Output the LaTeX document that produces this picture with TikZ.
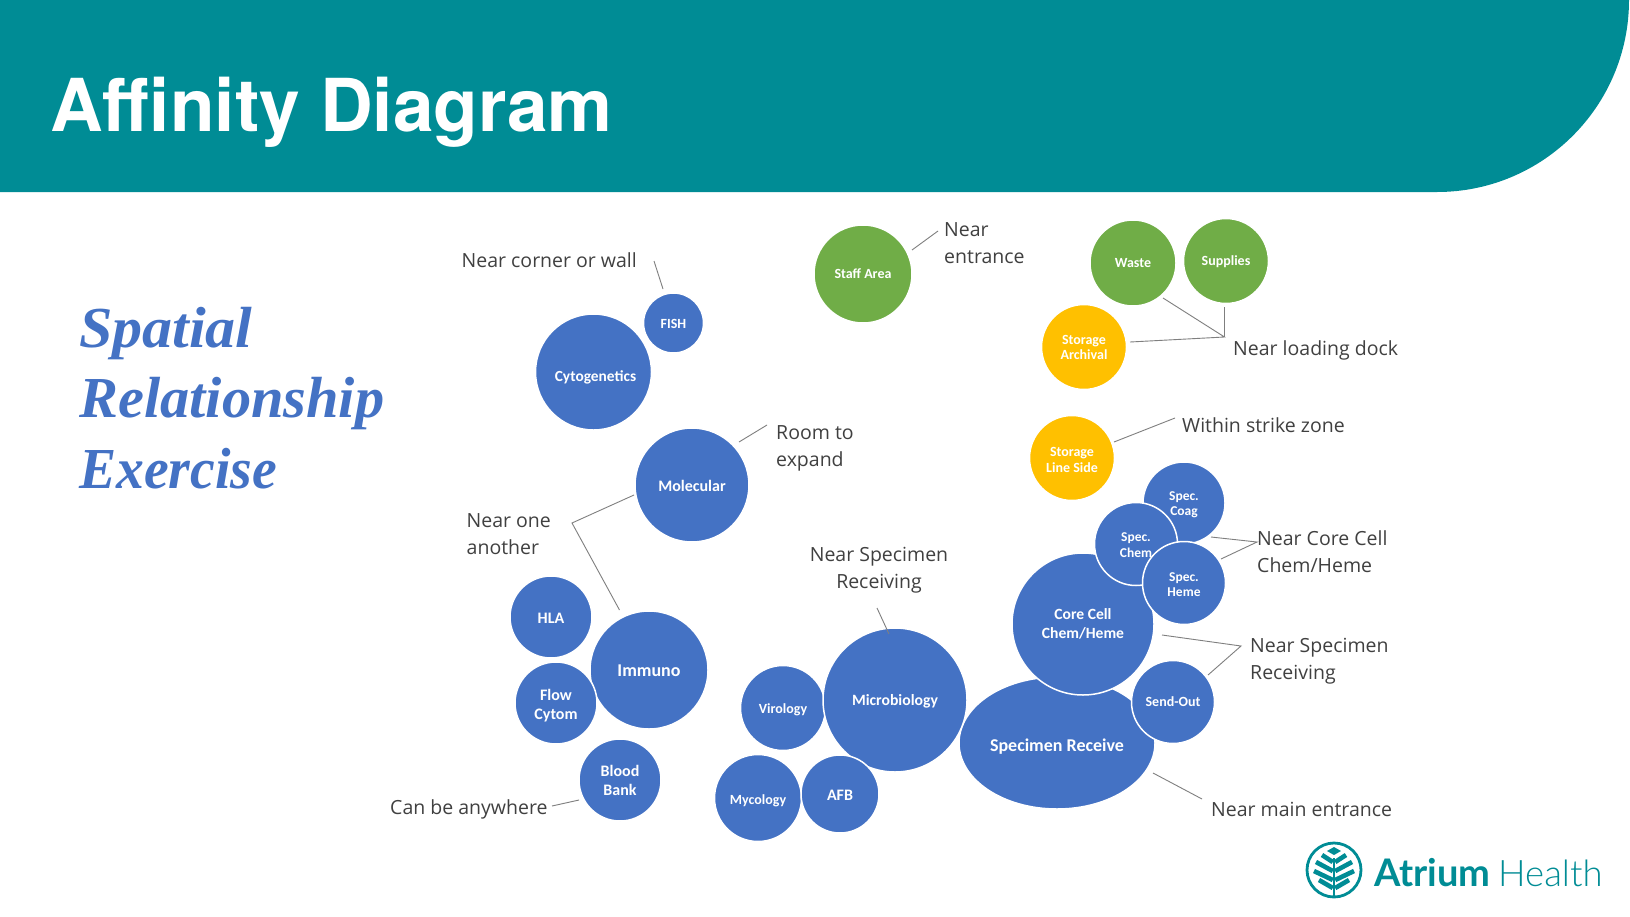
\documentclass[tikz,border=0pt]{standalone}
\usepackage{fontspec}
\usetikzlibrary{shapes.geometric}
\setmainfont{Carlito}
\newfontfamily\lblfont{Open Sans}
\newfontfamily\titlefont{TeX Gyre Heros}
\newfontfamily\subfont{Liberation Serif}
\newfontfamily\logofont{Lato}
\newfontfamily\logolight{Lato Light}
\newcommand\dn[2]{\raisebox{-#1}[\height][\depth]{\begin{tabular}{@{}c@{}}#2\end{tabular}}}
\definecolor{teal1}{HTML}{008C95}
\definecolor{blue1}{HTML}{4472C4}
\definecolor{green1}{HTML}{70AD47}
\definecolor{gold1}{HTML}{FFC000}
\definecolor{ink}{HTML}{404040}
\definecolor{rule1}{HTML}{7F7F7F}
\tikzset{
 x=1pt,y=-1pt,
 bub/.style={circle,draw=white,line width=1.5pt,text=white,align=center,inner sep=0pt,font=\bfseries\fontsize{14}{18}\selectfont},
 bluebub/.style={bub,fill=blue1},
 greenbub/.style={bub,fill=green1},
 goldbub/.style={bub,fill=gold1},
 small/.style={font=\bfseries\fontsize{14}{15.7}\selectfont},
 mid/.style={font=\bfseries\fontsize{16}{19}\selectfont},
 big/.style={font=\bfseries\fontsize{18}{19}\selectfont},
 lbl/.style={text=ink,align=left,inner sep=0pt,font=\lblfont\fontsize{19.5}{27}\selectfont},
 subt/.style={anchor=base west,inner sep=0pt,text=blue1,font=\subfont\bfseries\itshape\fontsize{58}{58}\selectfont},
 conn/.style={draw=rule1,line width=0.9pt},
 leaf/.style={draw=teal1,line width=4.6pt,line cap=butt,line join=miter}
}
\begin{document}
\begin{tikzpicture}
\useasboundingbox (0,0) rectangle (1630,916);
\fill[white] (0,0) rectangle (1630,916);
\fill[teal1] (0,0) -- (1629,0) arc[start angle=0,end angle=90,radius=192] -- (0,192) -- cycle;
\node[anchor=base west,inner sep=0pt,text=white,font=\titlefont\bfseries\fontsize{73}{73}\selectfont] (title) at (50,131) {Affinity Diagram};
\node[subt] (s1) at (79,347) {\scalebox{1.035}[1]{Spatial}};
\node[subt] (s2) at (79,417) {\scalebox{1.007}[1]{Relationship}};
\node[subt] (s3) at (79,488) {\scalebox{0.96}[1]{Exercise}};

% bubbles
\node[greenbub,small,minimum size=98pt] (staff) at (863,274) {Staff Area};
\node[greenbub,small,minimum size=86pt] (waste) at (1133,263) {Waste};
\node[greenbub,small,minimum size=85pt] (supplies) at (1226,261) {\dn{1.5pt}{Supplies}};
\node[goldbub,small,minimum size=85pt] (archival) at (1084,347) {\dn{2pt}{Storage\\Archival}};
\node[goldbub,small,minimum size=85pt] (lineside) at (1072,458) {\dn{3.5pt}{Storage\\Line Side}};
\node[bluebub,ellipse,minimum width=196pt,minimum height=132pt,big] (recv) at (1057,743) {\dn{5pt}{Specimen Receive}};
\node[bluebub,minimum size=142pt,font=\bfseries\fontsize{15.6}{19}\selectfont] (core) at (1083,624) {Core Cell\\Chem/Heme};
\node[bluebub,font=\bfseries\fontsize{13.5}{15.7}\selectfont,minimum size=82pt] (coag) at (1184,503) {\dn{2pt}{Spec.\\Coag}};
\node[bluebub,font=\bfseries\fontsize{13.5}{15.7}\selectfont,minimum size=83pt] (chem) at (1136,544) {\dn{2.5pt}{Spec.\\Chem}};
\node[bluebub,font=\bfseries\fontsize{13.5}{15.7}\selectfont,minimum size=83pt] (heme) at (1184,583) {\dn{3pt}{Spec.\\Heme}};
\node[bluebub,small,minimum size=83pt] (sendout) at (1173,702) {Send-Out};
\node[bluebub,minimum size=85pt] (virology) at (783,708) {\dn{2pt}{Virology}};
\node[bluebub,font=\bfseries\fontsize{15.7}{19}\selectfont,minimum size=144pt] (micro) at (895,700) {\dn{2pt}{Microbiology}};
\node[bluebub,minimum size=87pt] (mycology) at (758,798) {\dn{3pt}{Mycology}};
\node[bluebub,mid,minimum size=78pt] (afb) at (840,794) {\dn{3pt}{AFB}};
\node[bluebub,mid,minimum size=82pt] (hla) at (551,617) {\dn{3pt}{HLA}};
\node[bluebub,big,minimum size=118pt] (immuno) at (649,670) {\dn{3pt}{Immuno}};
\node[bluebub,mid,minimum size=82pt] (flow) at (556,703) {\dn{3pt}{Flow\\Cytom}};
\node[bluebub,mid,minimum size=82pt] (blood) at (620,780) {\dn{2.5pt}{Blood\\Bank}};
\node[bluebub,minimum size=114pt,mid] (molecular) at (692,485) {\dn{3pt}{Molecular}};
\node[bluebub,font=\bfseries\fontsize{15.4}{18}\selectfont,minimum size=116pt] (cyto) at (593.5,372) {\dn{5.5pt}{\hspace*{4pt}Cytogenetics}};
\node[bluebub,small,minimum size=60pt] (fish) at (673.5,323) {\dn{2pt}{FISH}};

% labels
\node[lbl,anchor=west] (lcorner) at (461.5,260) {Near corner or wall};
\node[lbl,anchor=north west] (lentr) at (944,222) {Near\\entrance};
\node[lbl,anchor=west] (ldock) at (1233,350) {Near loading dock};
\node[lbl,anchor=north west] (lexp) at (776,425.5) {Room to\\expand};
\node[lbl,anchor=north west] (lone) at (466.5,513.5) {Near one\\another};
\node[lbl,anchor=north,align=center] (lmic) at (879,546.5) {Near Specimen\\Receiving};
\node[lbl,anchor=west] (lstrike) at (1182,425) {Within strike zone};
\node[lbl,anchor=north west] (lcore) at (1257,530.5) {Near Core Cell\\Chem/Heme};
\node[lbl,anchor=north west] (lrecv) at (1250,637.5) {Near Specimen\\Receiving};
\node[lbl,anchor=west] (lmain) at (1211,809) {Near main entrance};
\node[lbl,anchor=west] (lany) at (390,809) {Can be anywhere};

% connector ends
\coordinate (c1a) at (654,261); \coordinate (c1b) at (663,289);
\coordinate (c2a) at (912,250); \coordinate (c2b) at (938,231);
\coordinate (j3) at (1224.5,337); \coordinate (c3a) at (1163,298); \coordinate (c3b) at (1224.5,307); \coordinate (c3c) at (1130,342);
\coordinate (c4a) at (739,442); \coordinate (c4b) at (767,425);
\coordinate (c5a) at (634,495); \coordinate (j5) at (572,523); \coordinate (c5b) at (619.5,610);
\coordinate (c6a) at (877,608); \coordinate (c6b) at (889,634);
\coordinate (c7a) at (1114,442); \coordinate (c7b) at (1175,418);
\coordinate (j8) at (1257,542); \coordinate (c8a) at (1211,537); \coordinate (c8b) at (1221,559);
\coordinate (j9) at (1241,646); \coordinate (c9a) at (1162,635); \coordinate (c9b) at (1208,675);
\coordinate (c10a) at (1153,773); \coordinate (c10b) at (1202,799);
\coordinate (c11a) at (552,806); \coordinate (c11b) at (579,800);
\draw[conn] (c1a) -- (c1b);
\draw[conn] (c2a) -- (c2b);
\draw[conn] (c3a) -- (j3) -- (c3c);
\draw[conn] (c3b) -- (j3);
\draw[conn] (c4a) -- (c4b);
\draw[conn] (c5a) -- (j5) -- (c5b);
\draw[conn] (c6a) -- (c6b);
\draw[conn] (c7a) -- (c7b);
\draw[conn] (c8a) -- (j8) -- (c8b);
\draw[conn] (c9a) -- (j9) -- (c9b);
\draw[conn] (c10a) -- (c10b);
\draw[conn] (c11a) -- (c11b);

% logo
\begin{scope}[shift={(1334,870)}]
\draw[teal1,line width=2.8pt] (0,0) circle[radius=27];
\fill[teal1] (0,-23) -- (7,-19) -- (0,-15) -- (-7,-19) -- cycle;
\draw[teal1,line width=1.6pt] (0,-12) -- (0,27);
\foreach \ya/\yb/\w in {-8/-15/12,1/-8/18,10/1/20,18/10/15}{
 \draw[leaf] (-1.2,\ya) -- (-\w,\yb);
 \draw[leaf] (1.2,\ya) -- (\w,\yb);
}
\end{scope}
\node[anchor=base west,inner sep=0pt,text=teal1,font=\logofont\bfseries\fontsize{38}{38}\selectfont] (atrium) at (1374,886) {Atrium};
\node[anchor=base west,inner sep=0pt,text=teal1,font=\logolight\fontsize{36.5}{38}\selectfont] (health) at (1498,886) {Health};
\end{tikzpicture}
\end{document}
